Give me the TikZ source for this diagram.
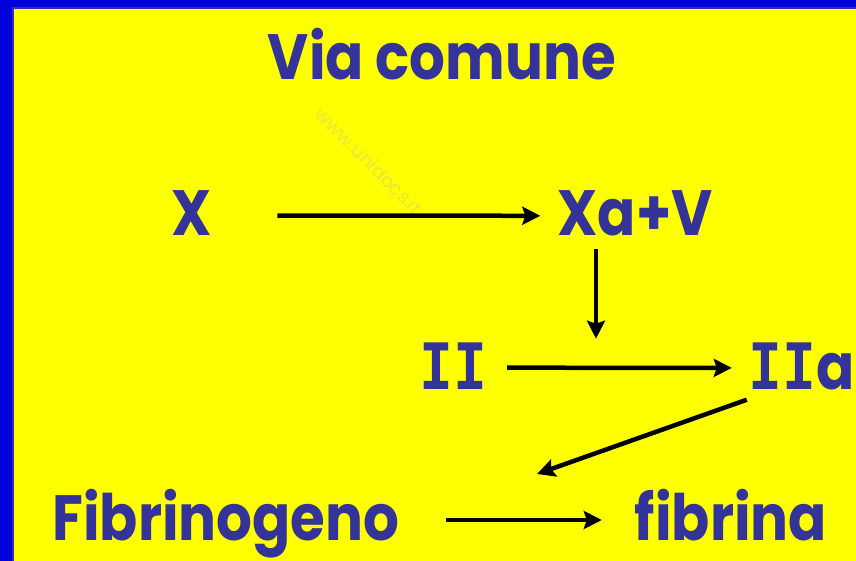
\documentclass[tikz,border=0pt]{standalone}
\usepackage{fontspec}
\usepackage{graphicx}
\setmainfont{Poppins}
\newfontfamily\serifI{DejaVu Sans Mono}
\usetikzlibrary{arrows.meta}
\definecolor{slide}{HTML}{FFFF00}
\definecolor{frameblue}{HTML}{0000DD}
\definecolor{frameline}{HTML}{3333AA}
\definecolor{ink}{HTML}{333399}
\definecolor{wm}{HTML}{E6E640}
\newcommand\sq[1]{\scalebox{0.88}[1]{#1}}
\newcommand\bigI{{\serifI\bfseries I}}
\tikzset{
  lbl/.style={text=ink, font=\fontsize{64}{66}\selectfont\bfseries, inner sep=0pt, anchor=base},
  conn/.style={line width=4.5pt, -{Stealth[length=18pt,width=18pt,inset=3pt]}, black},
}
\begin{document}
\begin{tikzpicture}[x=1pt,y=-1pt]
\useasboundingbox (0,0) rectangle (856,561);
\fill[frameblue] (0,0) rectangle (856,561);
\fill[slide, draw=frameline, line width=1.5pt] (13,8) rectangle (860,565);
\node[text=wm, rotate=-45, font=\fontsize{19}{19}\selectfont, inner sep=0pt] (wmark) at (369,161) {www.unidocs.it};
\node[lbl] (title) at (442,80) {\sq{Via comune}};
\node[lbl] (x) at (192,236) {\sq{X}};
\node[lbl] (xav) at (635,236) {\sq{Xa+V}};
\node[lbl] (ii) at (453,389) {\sq{\bigI\bigI}};
\node[lbl] (iia) at (802,389) {\sq{\bigI\bigI a}};
\node[lbl] (fib) at (226,540) {\sq{Fibrinogeno}};
\node[lbl] (fibrina) at (731,540) {\sq{fibrina}};
\coordinate (join) at (537,474);
\draw[conn, shorten <=65pt, shorten >=17pt] ([yshift=-2pt]x.east) -- ([yshift=-2pt]xav.west);
\draw[conn] ([xshift=-39pt,yshift=-12pt]xav.south) -- ++(0,90);
\draw[conn, shorten <=20pt, shorten >=17pt] ([yshift=-2pt]ii.east) -- ([yshift=-2pt]iia.west);
\draw[conn] ([xshift=-2pt,yshift=-10pt]iia.south west) -- (join);
\draw[conn, shorten <=46pt, shorten >=33pt] ([yshift=20pt]fib.base east) -- ([yshift=20pt]fibrina.base west);
\end{tikzpicture}
\end{document}
